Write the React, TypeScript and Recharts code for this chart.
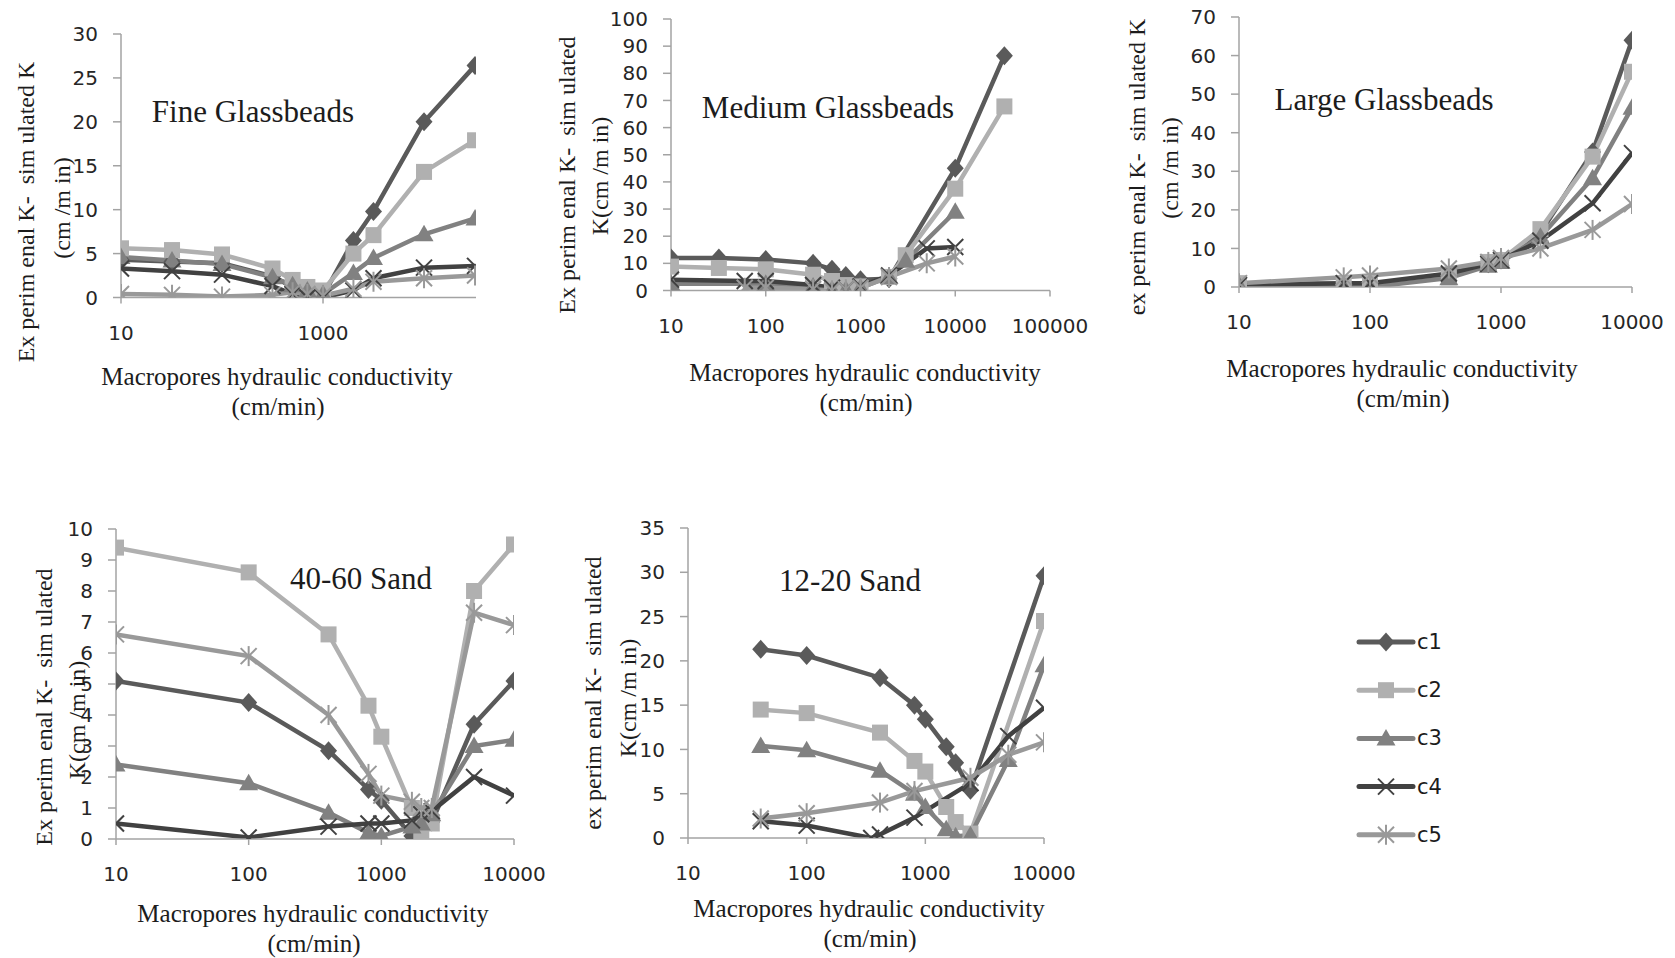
import React from 'react';
import { LineChart, Line, XAxis, YAxis } from 'recharts';

const SERIES = ['c1', 'c2', 'c3', 'c4', 'c5'] as const;
const COLORS: Record<string, string> = {
  c1: '#5a5a5a',
  c2: '#b0b0b0',
  c3: '#818181',
  c4: '#414141',
  c5: '#999999',
};
const SHAPES: Record<string, string> = { c1: 'diamond', c2: 'square', c3: 'triangle', c4: 'x', c5: 'star' };

// Fine Glassbeads
const fineK = [10, 32, 100, 316, 500, 700, 1000, 2000, 3160, 10000, 32000];
const fineC1 = [4.3, 4.1, 3.9, 2.4, 1.2, 0.5, 0.2, 6.5, 9.8, 20.0, 26.4];
const fineC2 = [5.6, 5.4, 4.9, 3.3, 2.0, 1.2, 0.8, 5.0, 7.1, 14.3, 17.9];
const fineC3 = [4.6, 4.2, 3.8, 2.3, 1.4, 0.8, 0.4, 2.8, 4.5, 7.2, 9.0];
const fineC4 = [3.3, 3.0, 2.6, 1.3, 0.4, 0.0, 0.0, 0.8, 2.2, 3.4, 3.6];
const fineC5 = [0.4, 0.3, 0.1, 0.3, 0.6, 0.4, 0.2, 1.0, 1.8, 2.2, 2.5];

// Medium Glassbeads
const medK = [10, 32, 60, 100, 316, 500, 700, 1000, 2000, 3000, 5000, 10000, 33000];
const medC1 = [12.0, 12.0, null, 11.4, 10.0, 7.8, 5.5, 4.0, 4.3, null, null, 45.0, 86.5];
const medC2 = [8.8, 8.3, null, 7.8, 5.8, 3.5, 2.0, 1.5, 5.0, 13.0, null, 37.5, 67.8];
const medC3 = [2.5, null, null, 2.5, 1.5, 0.3, 0.3, 1.0, 5.0, 11.0, null, 29.0, null];
const medC4 = [4.0, null, 3.5, 3.5, 2.0, 1.0, 0.5, 1.5, 5.5, null, 15.5, 16.0, null];
const medC5 = [null, null, 1.0, 1.0, 0.5, 0.0, 0.5, 1.0, 5.0, null, 10.0, 12.5, null];

// Large Glassbeads
const largeK = [10, 63, 100, 400, 800, 1000, 2000, 5000, 10000];
const largeC1 = [0.8, 0.5, 0.5, 3.0, 6.0, 7.0, 14.0, 35.0, 64.0];
const largeC2 = [1.0, 1.0, 1.0, 2.5, 6.5, 7.0, 15.0, 33.8, 55.8];
const largeC3 = [0.5, 0.0, 0.0, 2.3, 5.5, 6.5, 13.0, 28.2, 46.5];
const largeC4 = [0.5, 1.0, 1.0, 3.5, 6.0, 7.0, 12.0, 21.7, 34.7];
const largeC5 = [1.0, 2.5, 3.0, 4.8, 6.5, 7.5, 10.0, 14.8, 21.5];

// 40-60 Sand
const sand46K = [10, 100, 400, 800, 1000, 1700, 2000, 2400, 5000, 10000];
const sand46C1 = [5.1, 4.4, 2.85, 1.6, 1.25, 0.1, 0.3, 0.55, 3.7, 5.1];
const sand46C2 = [9.4, 8.6, 6.6, 4.3, 3.3, 1.0, 0.1, 0.5, 8.0, 9.5];
const sand46C3 = [2.4, 1.8, 0.85, 0.2, 0.1, 0.4, 0.5, 0.8, 3.0, 3.2];
const sand46C4 = [0.5, 0.05, 0.4, 0.5, 0.5, 0.6, 0.8, 0.9, 2.0, 1.4];
const sand46C5 = [6.6, 5.9, 4.0, 2.1, 1.4, 1.2, 1.0, 1.0, 7.3, 6.9];

// 12-20 Sand
const sand12K = [41, 100, 350, 415, 810, 1000, 1500, 1800, 2400, 5000, 10000];
const sand12C1 = [21.3, 20.6, null, 18.1, 15.0, 13.4, 10.3, 8.5, 5.4, null, 29.6];
const sand12C2 = [14.5, 14.1, null, 11.9, 8.7, 7.5, 3.5, 1.8, 0.5, null, 24.5];
const sand12C3 = [10.4, 9.9, null, 7.6, 5.0, 3.5, 1.0, 0.2, 0.3, 8.8, 19.5];
const sand12C4 = [1.9, 1.4, 0.0, 0.4, 2.3, null, null, null, 6.2, 11.5, 14.7];
const sand12C5 = [2.2, 2.8, null, 4.0, 5.3, null, null, null, 6.8, 9.4, 10.8];

const DECADES = [10, 100, 1000, 10000];

type Row = { k: number; [s: string]: number | null };

const buildRows = (k: number[], cols: (number | null)[][]): Row[] =>
  k.map((kv, i) => {
    const row: Row = { k: kv };
    cols.forEach((col, j) => {
      row[SERIES[j]] = col[i];
    });
    return row;
  });

const range = (max: number, step: number) => {
  const out: number[] = [];
  for (let v = 0; v <= max; v += step) out.push(v);
  return out;
};

const AXIS = '#a3a3a3';
const TICK = { fill: '#262626', fontSize: 20, fontFamily: 'DejaVu Sans' };
const SERIF = 'Liberation Serif, Times New Roman, serif';

const Marker = ({ shape, cx, cy, color }: { shape: string; cx: number; cy: number; color: string }) => {
  switch (shape) {
    case 'diamond':
      return <polygon points={`${cx},${cy - 9.5} ${cx + 8.5},${cy} ${cx},${cy + 9.5} ${cx - 8.5},${cy}`} fill={color} />;
    case 'square':
      return <rect x={cx - 8} y={cy - 8} width={16} height={16} fill={color} />;
    case 'triangle':
      return <polygon points={`${cx},${cy - 9.5} ${cx + 9.5},${cy + 7} ${cx - 9.5},${cy + 7}`} fill={color} />;
    case 'x':
      return (
        <g stroke={color} strokeWidth={2}>
          <line x1={cx - 8} y1={cy - 8} x2={cx + 8} y2={cy + 8} />
          <line x1={cx - 8} y1={cy + 8} x2={cx + 8} y2={cy - 8} />
        </g>
      );
    default:
      return (
        <g stroke={color} strokeWidth={2}>
          <line x1={cx - 8} y1={cy - 8} x2={cx + 8} y2={cy + 8} />
          <line x1={cx - 8} y1={cy + 8} x2={cx + 8} y2={cy - 8} />
          <line x1={cx} y1={cy - 10} x2={cx} y2={cy + 10} />
        </g>
      );
  }
};

const YW = 60;
const MT = 16;
const MR = 48;
const XH = 56;

interface PanelProps {
  rows: Row[];
  box: [number, number, number, number];
  xMax: number;
  xTicks: number[];
  yTicks: number[];
}

const Panel = ({ rows, box, xMax, xTicks, yTicks }: PanelProps) => {
  const [x0, y0, x1, y1] = box;
  const w = YW + (x1 - x0) + MR;
  const h = MT + (y1 - y0) + XH;
  return (
    <div style={{ position: 'absolute', left: x0 - YW, top: y0 - MT }}>
      <LineChart width={w} height={h} data={rows} margin={{ top: MT, right: MR, left: 0, bottom: 0 }}>
        <XAxis
          dataKey="k"
          type="number"
          scale="log"
          domain={[10, xMax]}
          allowDataOverflow
          ticks={xTicks}
          interval={0}
          height={XH}
          tickSize={6}
          tickMargin={22}
          stroke={AXIS}
          strokeWidth={1.5}
          tick={TICK}
          tickFormatter={(v: number) => String(v)}
        />
        <YAxis
          type="number"
          domain={[0, yTicks[yTicks.length - 1]]}
          allowDataOverflow
          ticks={yTicks}
          interval={0}
          width={YW}
          tickSize={8}
          tickMargin={15}
          stroke={AXIS}
          strokeWidth={1.5}
          tick={TICK}
        />
        {SERIES.map((s) => (
          <Line
            key={s}
            type="linear"
            dataKey={s}
            stroke={COLORS[s]}
            strokeWidth={4.5}
            connectNulls
            isAnimationActive={false}
            activeDot={false}
            dot={(p: any) =>
              p.cx == null || p.cy == null || p.value == null ? (
                <g key={`${s}-${p.index}`} />
              ) : (
                <g key={`${s}-${p.index}`}>
                  <Marker shape={SHAPES[s]} cx={p.cx} cy={p.cy} color={COLORS[s]} />
                </g>
              )
            }
          />
        ))}
      </LineChart>
    </div>
  );
};

const Text = ({ x, y, text, size, rotate = false, family = SERIF }: { x: number; y: number; text: string; size: number; rotate?: boolean; family?: string }) => (
  <div
    style={{
      position: 'absolute',
      left: x,
      top: y,
      transform: `translate(-50%, -50%)${rotate ? ' rotate(-90deg)' : ''}`,
      whiteSpace: 'pre',
      fontFamily: family,
      fontSize: size,
      lineHeight: 1,
      color: '#1c1c1c',
    }}
  >
    {text}
  </div>
);

const XTitle = ({ x, y }: { x: number; y: number }) => (
  <>
    <Text x={x} y={y} text="Macropores hydraulic conductivity" size={25} />
    <Text x={x + 1} y={y + 30} text="(cm/min)" size={25} />
  </>
);

const Legend = () => (
  <svg style={{ position: 'absolute', left: 1350, top: 615, overflow: 'visible' }} width={130} height={240}>
    {SERIES.map((s, i) => {
      const y = 27 + i * 48.2;
      return (
        <g key={s}>
          <line x1={9} y1={y} x2={63} y2={y} stroke={COLORS[s]} strokeWidth={5} strokeLinecap="round" />
          <Marker shape={SHAPES[s]} cx={36} cy={y} color={COLORS[s]} />
          <text x={67} y={y + 7} fontSize={21} fontFamily="DejaVu Sans" fill="#1c1c1c">
            {s}
          </text>
        </g>
      );
    })}
  </svg>
);

export default function App() {
  const fine = buildRows(fineK, [fineC1, fineC2, fineC3, fineC4, fineC5]);
  const med = buildRows(medK, [medC1, medC2, medC3, medC4, medC5]);
  const large = buildRows(largeK, [largeC1, largeC2, largeC3, largeC4, largeC5]);
  const sand46 = buildRows(sand46K, [sand46C1, sand46C2, sand46C3, sand46C4, sand46C5]);
  const sand12 = buildRows(sand12K, [sand12C1, sand12C2, sand12C3, sand12C4, sand12C5]);

  return (
    <div style={{ position: 'absolute', left: 0, top: 0, width: 1675, height: 958, background: '#fff', overflow: 'hidden' }}>
      <Panel rows={fine} box={[121, 34, 476, 297.5]} xMax={32700} xTicks={[10, 1000]} yTicks={range(30, 5)} />
      <Panel rows={med} box={[671, 19, 1050, 290.5]} xMax={100000} xTicks={[...DECADES, 100000]} yTicks={range(100, 10)} />
      <Panel rows={large} box={[1239, 17, 1632, 287]} xMax={10000} xTicks={DECADES} yTicks={range(70, 10)} />
      <Panel rows={sand46} box={[116, 528.5, 514, 838.5]} xMax={10000} xTicks={DECADES} yTicks={range(10, 1)} />
      <Panel rows={sand12} box={[688, 528.3, 1044, 838.3]} xMax={10000} xTicks={DECADES} yTicks={range(35, 5)} />

      <Text x={253} y={111} text="Fine Glassbeads" size={31} />
      <Text x={828} y={107} text="Medium Glassbeads" size={31} />
      <Text x={1384} y={99} text="Large Glassbeads" size={31} />
      <Text x={361} y={578} text="40-60 Sand" size={31} />
      <Text x={850} y={580} text="12-20 Sand" size={31} />

      <XTitle x={277} y={376} />
      <XTitle x={865} y={372} />
      <XTitle x={1402} y={368} />
      <XTitle x={313} y={913} />
      <XTitle x={869} y={908} />

      <Text x={26} y={212} text="Ex perim enal K-  sim ulated K" size={24} rotate />
      <Text x={62} y={208} text="(cm /m in)" size={24} rotate />
      <Text x={567} y={175} text="Ex perim enal K-  sim ulated" size={24} rotate />
      <Text x={600} y={176} text="K(cm /m in)" size={24} rotate />
      <Text x={1137} y={167} text="ex perim enal K-  sim ulated K" size={24} rotate />
      <Text x={1170} y={168} text="(cm /m in)" size={24} rotate />
      <Text x={44} y={707} text="Ex perim enal K-  sim ulated" size={24} rotate />
      <Text x={77} y={720} text="K(cm /m in)" size={24} rotate />
      <Text x={593} y={693} text="ex perim enal K-  sim ulated" size={24} rotate />
      <Text x={628} y={698} text="K(cm /m in)" size={24} rotate />

      <Legend />
    </div>
  );
}
